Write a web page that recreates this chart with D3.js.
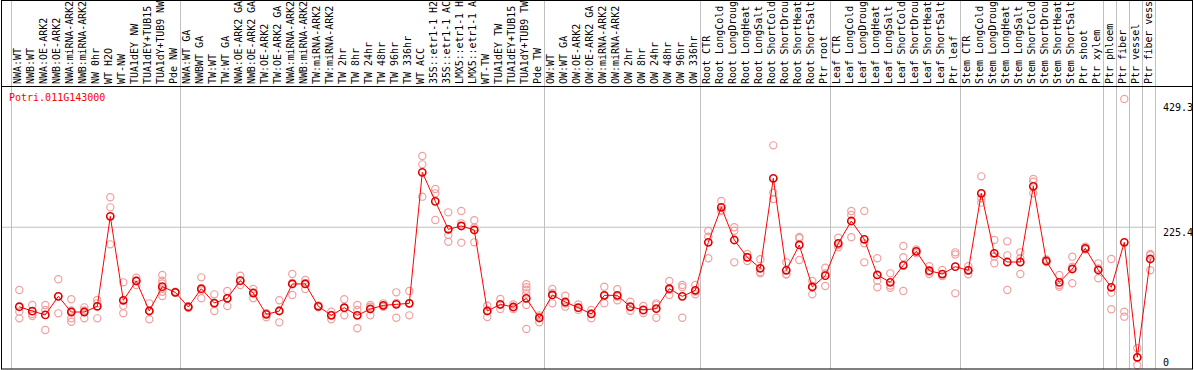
<!DOCTYPE html>
<html>
<head>
<meta charset="utf-8">
<script src="https://cdn.jsdelivr.net/npm/d3@7"></script>
<style>
body { margin: 0; background: #fff; }
text { font-family: "DejaVu Sans Mono", monospace; font-size: 10px; }
</style>
</head>
<body>
<div id="chart"></div>
<script>
// sample names, in plot order (as far as the label strip shows them)
const labels = [
    "NWA:WT", "NWB:WT", "NWA:OE-ARK2", "NWB:OE-ARK2", "NWA:miRNA-ARK2", "NWB:miRNA-ARK2",
    "NW 0hr", "WT H2O", "WT-NW", "TUA1dEY NW", "TUA1dEY+TUB15", "TUA1dY+TUB9 NW", "Pde NW",
    "NWA:WT GA", "NWBWT GA", "TW:WT", "TW:WT GA", "NWA:OE-ARK2 GA", "NWB:OE-ARK2 GA",
    "TW:OE-ARK2", "TW:OE-ARK2 GA", "NWA:miRNA-ARK2", "NWB:miRNA-ARK2", "TW:miRNA-ARK2",
    "TW:miRNA-ARK2", "TW 2hr", "TW 8hr", "TW 24hr", "TW 48hr", "TW 96hr", "TW 336hr",
    "WT ACC", "35S::etr1-1 H2", "35S::etr1-1 AC", "LMX5::etr1-1 H", "LMX5::etr1-1 A",
    "WT-TW", "TUA1dEY TW", "TUA1dEY+TUB15", "TUA1dY+TUB9 TW", "Pde TW",
    "OW:WT", "OW:WT GA", "OW:OE-ARK2", "OW:OE-ARK2 GA", "OW:miRNA-ARK2", "OW:miRNA-ARK2",
    "OW 2hr", "OW 8hr", "OW 24hr", "OW 48hr", "OW 96hr", "OW 336hr",
    "Root CTR", "Root LongCold", "Root LongDroug", "Root LongHeat", "Root LongSalt",
    "Root ShortCold", "Root ShortDrou", "Root ShortHeat", "Root ShortSalt", "Ptr root",
    "Leaf CTR", "Leaf LongCold", "Leaf LongDroug", "Leaf LongHeat", "Leaf LongSalt",
    "Leaf ShortCold", "Leaf ShortDrou", "Leaf ShortHeat", "Leaf ShortSalt", "Ptr leaf",
    "Stem CTR", "Stem LongCold", "Stem LongDroug", "Stem LongHeat", "Stem LongSalt",
    "Stem ShortCold", "Stem ShortDrou", "Stem ShortHeat", "Stem ShortSalt",
    "Ptr shoot", "Ptr xylem", "Ptr phloem", "Ptr fiber", "Ptr vessel", "Ptr fiber vess"
];

// mean expression per sample
const means = [
    99, 92, 86, 115.5, 90.6, 90.6, 99.7, 242.7, 109.2, 139.9, 92.2, 130.9, 121.9,
    98.6, 127.7, 104.9, 112.4, 140.5, 120.8, 86.9, 92.2, 135.2, 135.2, 99.7, 85.3,
    97.5, 85.3, 95.4, 101.2, 102.8, 104.4, 312.7, 266.6, 222.1, 227.4, 221,
    92.2, 102.8, 98.6, 112.4, 81.1,
    117.7, 106.5, 97.5, 87.5, 117.1, 117.1, 99.1, 94, 96, 127.7, 115.5, 125.1,
    201.4, 257.1, 205.1, 177.6, 160.1, 303.2, 156.9, 197.2, 130.4, 148.4,
    199.8, 235.3, 206.2, 149.5, 137.8, 164.9, 187.1, 156.3, 151, 162.7,
    156.9, 279.3, 184, 170.1, 170.1, 290.4, 171.7, 137.8, 159,
    191.9, 157.4, 129.9, 201.4, 18.6, 174.9
];

// individual replicates per sample
const replicates = [
    [125.6, 91, 80.5], [101.8, 87.5, 84.3], [101.8, 94, 62], [142.6, 115.5, 88.5],
    [110.8, 93, 80.5, 75.2], [98, 93, 80.5], [109.7, 104.4, 80.5], [273, 257, 198.2],
    [137.8, 100.7, 88.5], [145.2, 140.9, 133.6], [104.4, 93, 79],
    [149.5, 140.5, 136, 128, 122.9, 116], [123, 122, 121],
    [100, 99, 97], [145.7, 125, 112.4], [118.7, 104, 92.2], [124, 113, 100.2],
    [148.4, 140, 133.6], [127.2, 122, 112.4], [89.1, 88, 82.2], [109.2, 93, 74.2],
    [151, 137, 117.7], [141.5, 137, 127.2], [101, 100, 98], [91.2, 86, 79],
    [110.8, 97, 85.3], [101.8, 94, 64.7], [101.8, 99, 85.3], [104.4, 100, 99],
    [121.9, 105, 81.6], [124, 104, 85.3], [338.7, 325.4, 274], [286.2, 279.3, 236.9],
    [249.1, 213, 202.4], [251.2, 231.6, 200.9], [236.4, 225, 201.4],
    [100.7, 93, 82.7], [111.3, 102, 95.4], [102.5, 98, 95.4],
    [134.7, 130, 126, 120, 101.8, 63.6], [85.3, 83, 74.2],
    [127.2, 121, 104.4], [116.5, 104, 99.1], [102.5, 97, 94], [94, 88, 80.5],
    [130.9, 116, 104.4], [126.7, 115, 109.2], [107, 98, 92.7], [100.2, 93, 89.1],
    [104.4, 102, 81.6], [139.9, 126, 117.7], [133.6, 129.9, 81.6], [133.6, 123, 118.7],
    [219.4, 210.4, 176], [267.1, 252.8, 251], [225.3, 219.9, 169.6], [182.9, 178, 171.7],
    [174.4, 154, 152.1], [355.6, 280.4, 270.3], [169.6, 150.5, 150.5], [209.9, 208, 173.3],
    [139.9, 132, 118.7], [161.1, 152, 132],
    [208.8, 197, 193.5], [251.2, 244.9, 209.4], [251.2, 199.8, 169.6], [176, 140.5, 129.9],
    [152.1, 132.6, 129], [195.6, 177.6, 124], [190, 184, 187], [163.5, 154, 151],
    [157.4, 148, 147.9], [185.5, 182, 120.3],
    [163.5, 157, 150.5], [306.3, 271.4, 264.5], [205.1, 179, 168], [203, 180.7, 125.6],
    [185.5, 176, 151], [302.1, 297.9, 279.3], [174, 171, 170], [149.5, 133.6, 130.9],
    [178.6, 162.7, 136.3],
    [194.5, 191, 190], [168, 160, 144.2], [174.9, 121.4, 94.9], [429.3, 91.2, 83.2],
    [32.9, 18, 5.9], [182.9, 181, 156.9]
];

// first sample of each group (vertical separators)
const groupStarts = [0, 13, 41, 53, 63, 73, 84, 85, 86, 87];
const yTicks = [0, 225.4, 429.3];
const geneId = "Potri.011G143000";

const width = 1194;
const height = 370;
const labelBottom = 86;

const svg = d3.select("#chart")
    .append("svg")
    .attr("width", width)
    .attr("height", height);

const xScale = d3.scaleBand()
    .domain(d3.range(labels.length))
    .range([11, 1155]);

const yScale = d3.scaleLinear()
    .domain([0, 429.3])
    .range([369, 99]);

const cx = i => xScale(i) + 8.3;

// grid
svg.append("line")
    .attr("x1", 1).attr("x2", xScale.range()[1])
    .attr("y1", yScale(225.4)).attr("y2", yScale(225.4))
    .attr("stroke", "#c0c0c0");

const gridX = groupStarts.map(i => xScale(i)).concat([xScale.range()[1]]);
svg.selectAll(".vgrid")
    .data(gridX)
    .enter()
    .append("line")
    .attr("class", "vgrid")
    .attr("x1", d => d + 0.5).attr("x2", d => d + 0.5)
    .attr("y1", 0).attr("y2", 369)
    .attr("stroke", "#c0c0c0");

// rotated sample labels
svg.selectAll(".lab")
    .data(labels)
    .enter()
    .append("text")
    .attr("class", "lab")
    .attr("transform", (d, i) => `translate(${cx(i) + 1.8},84) rotate(-90)`)
    .attr("fill", "#000")
    .attr("textLength", d => d.length >= 14 ? 83 : null)
    .text(d => d);

// replicates
const repPoints = [];
replicates.forEach((r, i) => r.forEach(v => repPoints.push({ i: i, v: v })));
svg.selectAll(".rep")
    .data(repPoints)
    .enter()
    .append("circle")
    .attr("class", "rep")
    .attr("cx", d => cx(d.i))
    .attr("cy", d => yScale(d.v))
    .attr("r", 3.6)
    .attr("fill", "none")
    .attr("stroke", "#f0a0a0")
    .attr("stroke-width", 1.2);

// mean line
const line = d3.line()
    .x((d, i) => cx(i))
    .y(d => yScale(d));

svg.append("path")
    .datum(means)
    .attr("d", line)
    .attr("fill", "none")
    .attr("stroke", "#ff0000")
    .attr("stroke-width", 1);

svg.selectAll(".mean")
    .data(means)
    .enter()
    .append("circle")
    .attr("class", "mean")
    .attr("cx", (d, i) => cx(i))
    .attr("cy", d => yScale(d))
    .attr("r", 3.6)
    .attr("fill", "none")
    .attr("stroke", "#e00000")
    .attr("stroke-width", 1.6);

// title
svg.append("text")
    .attr("x", 9)
    .attr("y", 100.5)
    .attr("fill", "#ff0000")
    .text(geneId);

// right value labels
const tickOffset = { 0: -3.5, 225.4: 8.5, 429.3: 12 };
svg.selectAll(".ylab")
    .data(yTicks)
    .enter()
    .append("text")
    .attr("class", "ylab")
    .attr("x", 1163)
    .attr("y", d => yScale(d) + tickOffset[d])
    .attr("fill", "#000")
    .text(d => d);

// frame
svg.append("rect")
    .attr("x", 1.5).attr("y", 0.5)
    .attr("width", 1191).attr("height", 368.5)
    .attr("fill", "none")
    .attr("stroke", "#000");

svg.append("line")
    .attr("x1", 1).attr("x2", 1193)
    .attr("y1", labelBottom + 0.5).attr("y2", labelBottom + 0.5)
    .attr("stroke", "#000");
</script>
</body>
</html>
